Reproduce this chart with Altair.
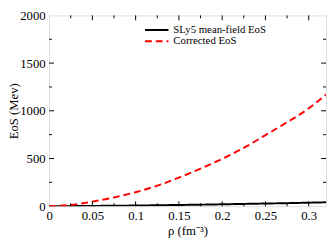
import altair as alt
import pandas as pd

# ---- data ----
rho = [0.0, 0.025, 0.05, 0.075, 0.1, 0.125, 0.15, 0.175, 0.2, 0.225, 0.25, 0.275, 0.3, 0.32]
sly5 = [0, 1, 3, 5, 7, 10, 13, 16, 20, 24, 28, 32, 37, 41]
corrected = [0, 13, 48, 92, 147, 215, 300, 393, 497, 612, 745, 880, 1025, 1170]
series_names = ["SLy5 mean-field EoS", "Corrected EoS"]

x_major = [0.05, 0.1, 0.15, 0.2, 0.25, 0.3]
x_minor = [0.025, 0.075, 0.125, 0.175, 0.225, 0.275]
x_labels = [0, 0.05, 0.1, 0.15, 0.2, 0.25, 0.3]
y_major = [500, 1000, 1500]
y_minor = [250, 750, 1250, 1750]
y_labels = [0, 500, 1000, 1500, 2000]

W, H = 283, 195
FONT = "Times New Roman, Liberation Serif, serif"
MAJ, MIN = 5, 3

df = pd.DataFrame({
    "x": rho * 2,
    "y": sly5 + corrected,
    "series": [series_names[0]] * len(rho) + [series_names[1]] * len(rho),
})

xscale = alt.Scale(domain=[0, 0.32], nice=False, zero=False)
yscale = alt.Scale(domain=[0, 2000], nice=False)

xaxis = alt.Axis(values=x_labels, format="~g", title="ρ (fm⁻³)", ticks=False, domain=False,
                 grid=False, labelPadding=4, labelFlush=False, labelFont=FONT, labelFontSize=13,
                 labelColor="black", titleFont=FONT, titleFontSize=13, titleFontWeight="normal",
                 titleColor="black", titlePadding=2)
yaxis = alt.Axis(values=y_labels, format="d", title="EoS (Mev)", ticks=False, domain=False,
                 grid=False, labelPadding=4, labelFlush=False, labelFont=FONT, labelFontSize=13,
                 labelColor="black", titleFont=FONT, titleFontSize=13, titleFontWeight="normal",
                 titleColor="black", titleX=-32, titleY=H / 2, titleBaseline="alphabetic",
                 titleAlign="center", titleAngle=270)

lines = alt.Chart(df).mark_line(strokeWidth=2, interpolate="monotone", clip=True).encode(
    x=alt.X("x:Q", scale=xscale, axis=xaxis),
    y=alt.Y("y:Q", scale=yscale, axis=yaxis),
    color=alt.Color("series:N", scale=alt.Scale(domain=series_names, range=["#000000", "#ff0000"]), legend=None),
    strokeDash=alt.StrokeDash("series:N", scale=alt.Scale(domain=series_names, range=[[1, 0], [7, 4]]), legend=None),
)

def xticks(vals, length):
    d = pd.DataFrame({"x": vals})
    bottom = alt.Chart(d).mark_rule(color="black", strokeWidth=1).encode(
        x="x:Q", y=alt.value(H), y2=alt.value(H - length))
    top = alt.Chart(d).mark_rule(color="black", strokeWidth=1).encode(
        x="x:Q", y=alt.value(0), y2=alt.value(length))
    return [bottom, top]

def yticks(vals, length):
    d = pd.DataFrame({"y": vals})
    left = alt.Chart(d).mark_rule(color="black", strokeWidth=1).encode(
        y="y:Q", x=alt.value(0), x2=alt.value(length))
    right = alt.Chart(d).mark_rule(color="black", strokeWidth=1).encode(
        y="y:Q", x=alt.value(W), x2=alt.value(W - length))
    return [left, right]

# manual legend
leg_y = [15, 26.5]
legend_layers = []
for i, (name, col, dash) in enumerate(zip(series_names, ["#000000", "#ff0000"], [[1, 0], [7, 4]])):
    d = pd.DataFrame({"label": [name]})
    legend_layers.append(alt.Chart(d).mark_rule(color=col, strokeWidth=2, strokeDash=dash).encode(
        x=alt.value(98), x2=alt.value(122), y=alt.value(leg_y[i])))
    legend_layers.append(alt.Chart(d).mark_text(font=FONT, fontSize=11, align="left", baseline="middle",
                                                color="black").encode(
        text="label:N", x=alt.value(127), y=alt.value(leg_y[i])))

chart = alt.layer(
    lines, *xticks(x_major, MAJ), *xticks(x_minor, MIN), *yticks(y_major, MAJ), *yticks(y_minor, MIN),
    *legend_layers
).properties(
    width=W, height=H,
    autosize=alt.AutoSizeParams(type="none"),
    padding={"left": 42, "top": 5, "right": 1, "bottom": 33},
).configure_view(stroke="black", strokeWidth=1.2).configure_axis(
    labelFont=FONT, titleFont=FONT
).configure(background="white", font=FONT)

chart.save("out.html", embed_options={"renderer": "svg", "actions": False})
